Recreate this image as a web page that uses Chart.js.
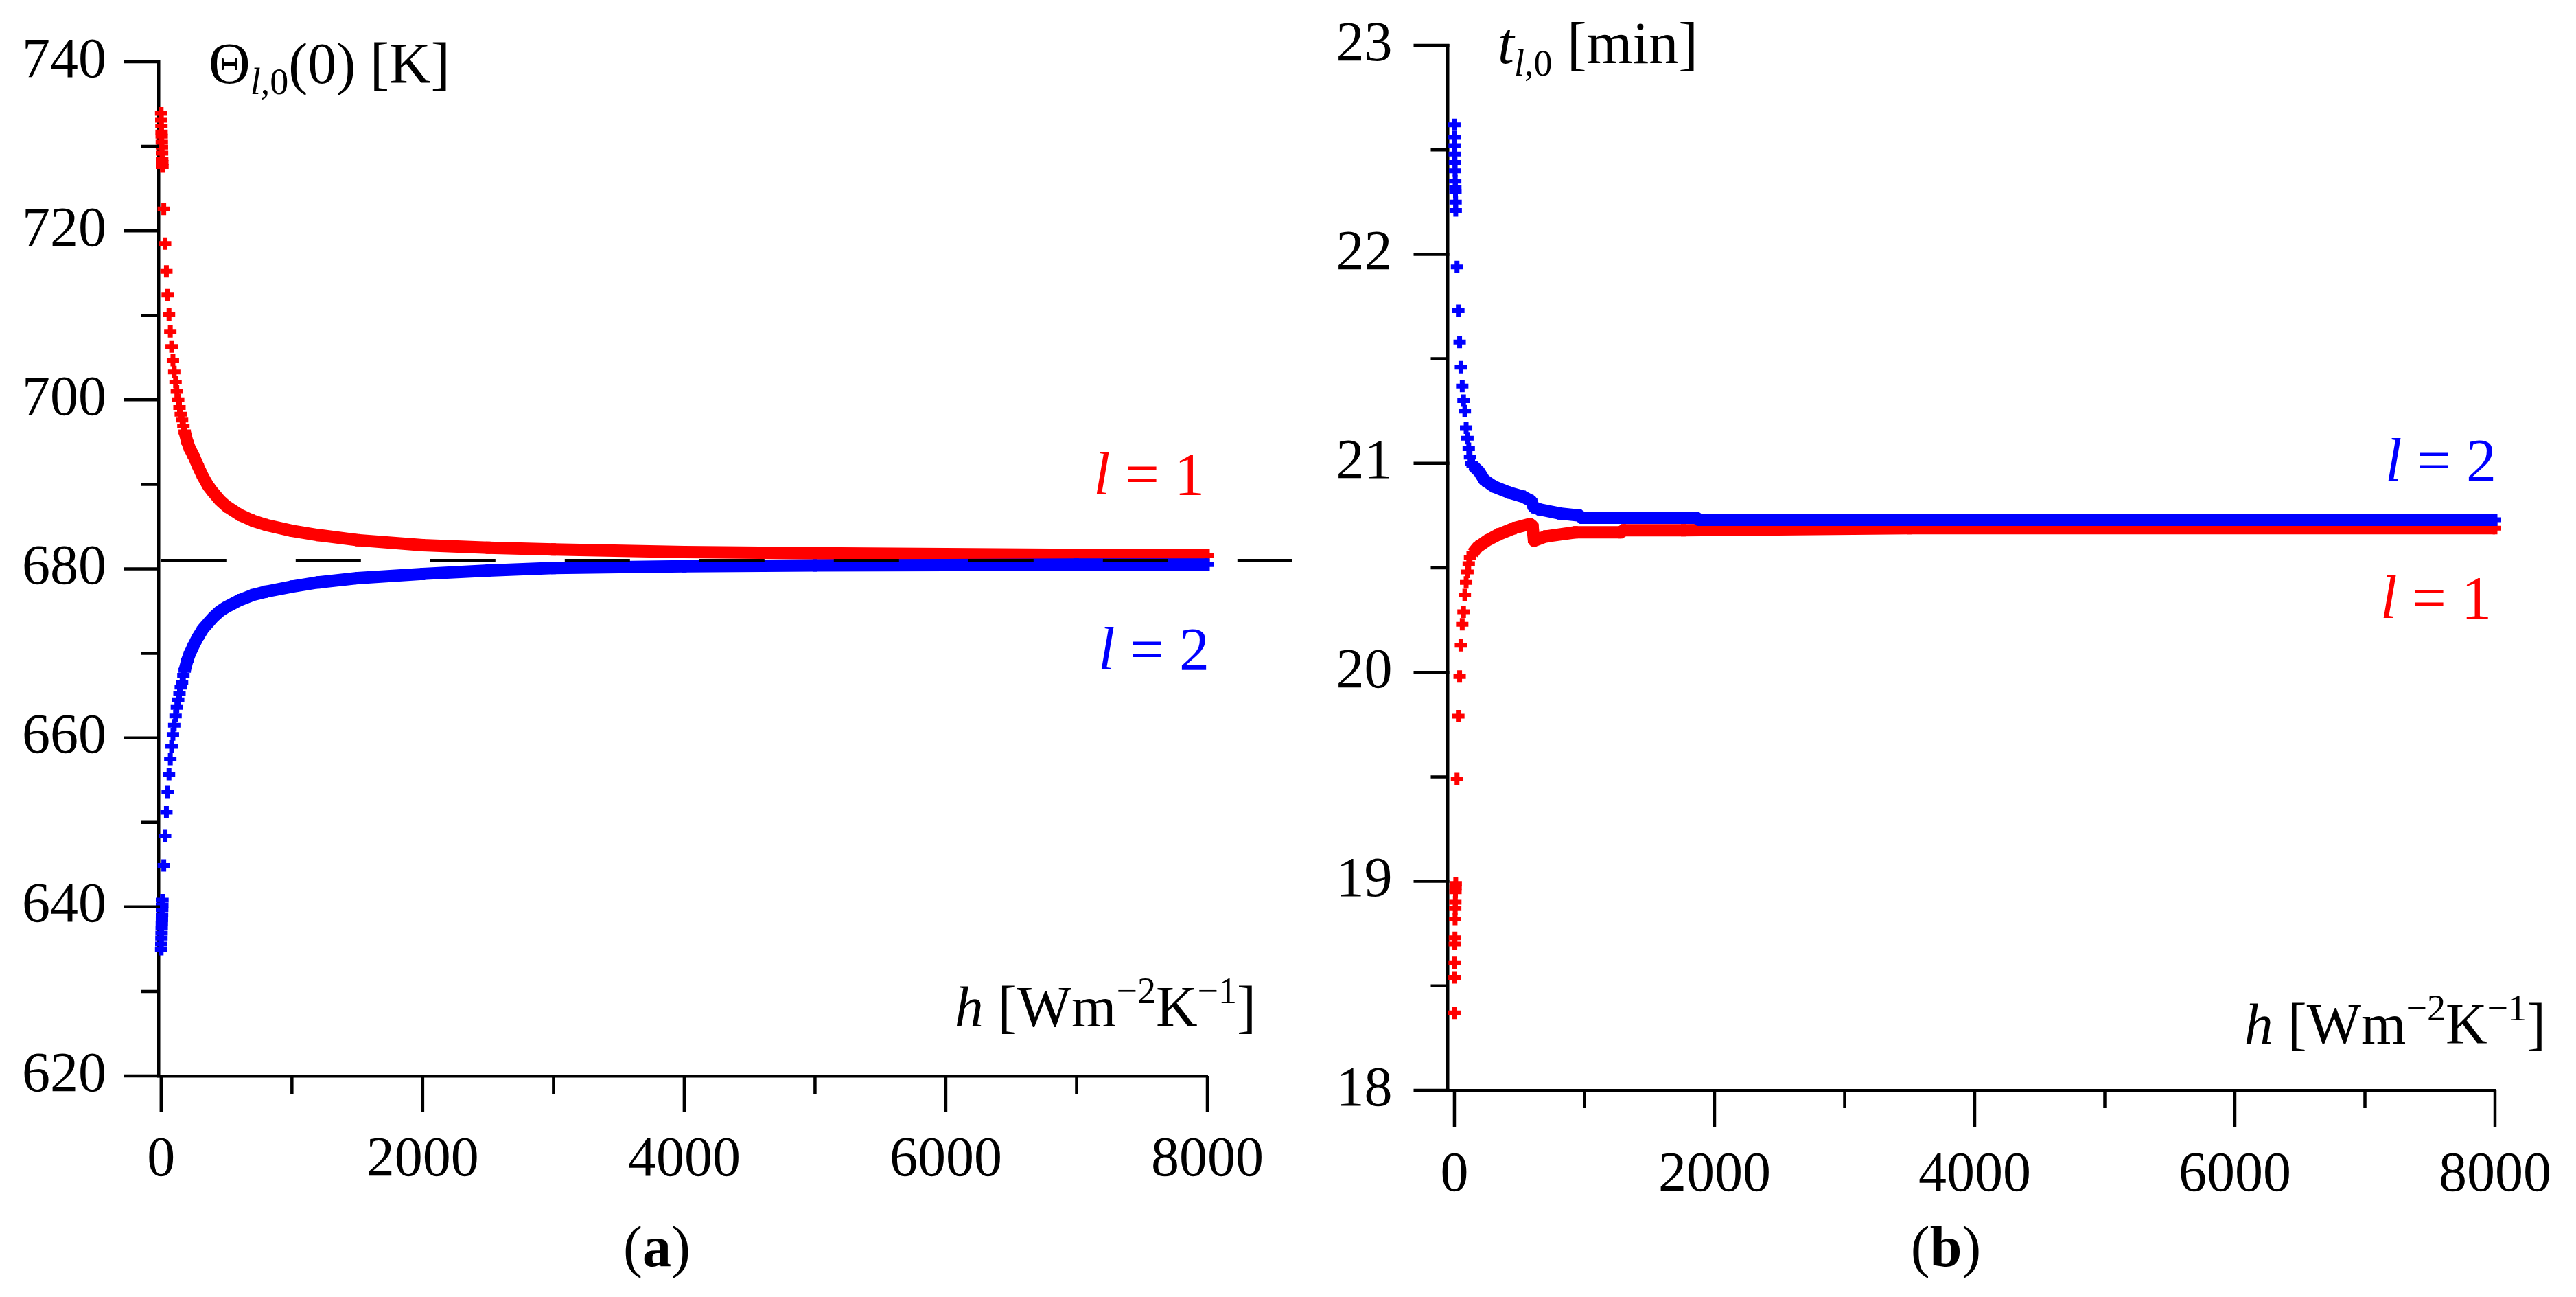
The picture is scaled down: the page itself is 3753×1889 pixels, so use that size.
<!DOCTYPE html>
<html>
<head>
<meta charset="utf-8">
<script src="https://cdn.jsdelivr.net/npm/chart.js@4.4.1/dist/chart.umd.min.js"></script>
<style>
  html, body { margin: 0; padding: 0; background: #fff; }
  #wrap { position: relative; width: 3753px; height: 1889px; }
  canvas { position: absolute; top: 0; }
  #left { left: 0; }
  #right { left: 1900px; }
</style>
</head>
<body>
<div id="wrap">
  <canvas id="left" width="1900" height="1889"></canvas>
  <canvas id="right" width="1853" height="1889"></canvas>
</div>
<script>
// h axis [W m^-2 K^-1]
const hMajor = [0, 2000, 4000, 6000, 8000];
const hMinor = [1000, 3000, 5000, 7000];
const hCluster = [0, 1, 2, 3, 4, 5, 6, 7, 8, 9, 10];

// panel (a): Theta_l,0(0) [K]
const thetaMajor = [620, 640, 660, 680, 700, 720, 740];
const thetaMinor = [630, 650, 670, 690, 710, 730];
const thetaLimit = 681;
const thetaLimitSpan = [0, 8650];
const thetaStepsH = [20, 30, 40, 50, 60, 70, 80, 90, 100, 110, 120, 130, 140, 150, 160, 170];
const thetaBandH = [180, 200, 220, 250, 280, 320, 360, 400, 450, 500, 600, 700, 800, 1000, 1200, 1500, 2000, 2500, 3000, 4000, 5000, 6000, 7000, 8000];
const thetaRedCluster = [733.9, 733.1, 732.4, 731.7, 731.2, 730.5, 729.9, 729.2, 728.5, 728.1, 727.6];
const thetaRedSteps = [722.6, 718.5, 715.2, 712.4, 710.1, 708.1, 706.3, 704.7, 703.3, 702.1, 701.0, 700.0, 699.1, 698.3, 697.6, 696.9];
const thetaRedBand = [696.2, 695.0, 694.2, 693.3, 692.2, 690.9, 689.8, 689.0, 688.1, 687.4, 686.4, 685.7, 685.2, 684.5, 684.0, 683.4, 682.8, 682.5, 682.3, 682.0, 681.85, 681.75, 681.65, 681.6];
const thetaBlueCluster = [635.0, 635.6, 636.3, 636.9, 637.5, 638.0, 638.5, 639.1, 639.7, 640.2, 640.8];
const thetaBlueSteps = [644.9, 648.4, 651.2, 653.6, 655.7, 657.5, 659.0, 660.4, 661.5, 662.6, 663.6, 664.5, 665.3, 666.0, 666.6, 667.4];
const thetaBlueBand = [668.0, 669.2, 670.0, 671.0, 671.9, 672.9, 673.6, 674.3, 675.0, 675.5, 676.3, 676.9, 677.3, 677.9, 678.4, 678.9, 679.4, 679.8, 680.1, 680.3, 680.4, 680.45, 680.5, 680.5];

// panel (b): t_l,0 [min]
const timeMajor = [18, 19, 20, 21, 22, 23];
const timeMinor = [18.5, 19.5, 20.5, 21.5, 22.5];
const timeRedCluster = [18.37, 18.54, 18.61, 18.70, 18.73, 18.82, 18.87, 18.90, 18.95, 18.97, 18.99];
const timeRedStepsH = [20, 30, 40, 50, 60, 70, 80, 90, 100, 110, 120];
const timeRedSteps = [19.49, 19.79, 19.98, 20.13, 20.23, 20.29, 20.37, 20.43, 20.48, 20.52, 20.55];
const timeRedBandH = [140, 180, 250, 340, 460, 580, 600, 612, 700, 930, 1280, 1300, 1760, 3500, 8000];
const timeRedBand = [20.57, 20.60, 20.63, 20.66, 20.69, 20.71, 20.70, 20.63, 20.65, 20.67, 20.67, 20.68, 20.68, 20.69, 20.69];
const timeBlueCluster = [22.62, 22.56, 22.52, 22.48, 22.44, 22.40, 22.35, 22.32, 22.30, 22.25, 22.21];
const timeBlueStepsH = [20, 30, 40, 50, 60, 70, 80, 90, 100, 110, 120, 130];
const timeBlueSteps = [21.94, 21.73, 21.58, 21.46, 21.37, 21.30, 21.25, 21.17, 21.12, 21.07, 21.03, 21.00];
const timeBlueBandH = [140, 190, 230, 300, 420, 530, 590, 610, 650, 810, 960, 980, 1860, 1880, 8000];
const timeBlueBand = [20.99, 20.96, 20.92, 20.89, 20.86, 20.84, 20.82, 20.79, 20.78, 20.76, 20.75, 20.74, 20.74, 20.73, 20.73];

const SERIF = '"Liberation Serif", "Times New Roman", serif';
const RED = '#ff0000';
const BLUE = '#0000ff';

function pts(hs, vs) {
    return hs.map((h, i) => ({ x: h, y: vs[i] }));
}

// single crosses, no line
function crosses(hs, vs, color, order) {
    return {
        data: pts(hs, vs),
        showLine: false,
        pointStyle: 'cross',
        pointRadius: 9,
        pointBorderWidth: 7,
        borderColor: color,
        backgroundColor: color,
        clip: false,
        order: order
    };
}

// dense part of a series: crosses joined by a thick line
function band(hs, vs, color, order) {
    const ds = crosses(hs, vs, color, order);
    ds.showLine = true;
    ds.borderWidth = 18;
    ds.borderJoinStyle = 'round';
    return ds;
}

function fontOf(p) {
    return (p.i ? 'italic ' : '') + (p.b ? 'bold ' : '') + p.s + 'px ' + SERIF;
}

function drawRich(ctx, item) {
    let width = 0;
    item.parts.forEach(p => { ctx.font = fontOf(p); width += ctx.measureText(p.t).width; });
    let x = item.x;
    if (item.align === 'right') x -= width;
    if (item.align === 'center') x -= width / 2;
    ctx.textBaseline = 'alphabetic';
    ctx.textAlign = 'left';
    item.parts.forEach(p => {
        ctx.font = fontOf(p);
        ctx.fillStyle = item.color || '#000';
        ctx.fillText(p.t, x, item.y + (p.dy || 0));
        x += ctx.measureText(p.t).width;
    });
}

// tick marks (major long, minor short) and the text labels
function decor(yMajor, yMinor, texts) {
    return {
        id: 'decor',
        afterDraw(chart) {
            const { ctx, chartArea: a, scales: { x, y } } = chart;
            ctx.save();
            ctx.strokeStyle = '#000';
            ctx.lineWidth = 4.5;
            ctx.beginPath();
            yMajor.forEach(v => { const p = y.getPixelForValue(v); ctx.moveTo(a.left - 50, p); ctx.lineTo(a.left + 2, p); });
            yMinor.forEach(v => { const p = y.getPixelForValue(v); ctx.moveTo(a.left - 25, p); ctx.lineTo(a.left, p); });
            hMajor.forEach(v => { const p = x.getPixelForValue(v); ctx.moveTo(p, a.bottom); ctx.lineTo(p, a.bottom + 53); });
            hMinor.forEach(v => { const p = x.getPixelForValue(v); ctx.moveTo(p, a.bottom); ctx.lineTo(p, a.bottom + 26); });
            ctx.stroke();
            texts.forEach(t => drawRich(ctx, t));
            ctx.restore();
        }
    };
}

function makePanel(canvasId, cfg) {
    const ctx = document.getElementById(canvasId).getContext('2d');
    const tickFont = { family: SERIF, size: 82 };
    return new Chart(ctx, {
        type: 'scatter',
        data: { datasets: cfg.datasets },
        options: {
            responsive: false,
            animation: false,
            devicePixelRatio: 1,
            events: [],
            layout: { padding: cfg.padding, autoPadding: false },
            plugins: { legend: { display: false }, tooltip: { enabled: false } },
            scales: {
                x: {
                    type: 'linear',
                    min: cfg.xMin,
                    max: 8000,
                    // fixed size, no label overhang padding
                    afterFit: s => { s.height = cfg.xHeight; s.paddingLeft = 0; s.paddingRight = 0; },
                    afterBuildTicks: s => { s.ticks = hMajor.map(v => ({ value: v })); },
                    ticks: { font: tickFont, color: '#000', padding: cfg.xPad, maxRotation: 0, autoSkip: false, callback: v => String(v) },
                    grid: { display: false, drawTicks: false },
                    border: { display: true, color: '#000', width: 4.5 }
                },
                y: {
                    type: 'linear',
                    min: cfg.yMajor[0],
                    max: cfg.yMajor[cfg.yMajor.length - 1],
                    afterFit: s => { s.width = cfg.yWidth; s.paddingTop = 0; s.paddingBottom = 0; },
                    afterBuildTicks: s => { s.ticks = cfg.yMajor.map(v => ({ value: v })); },
                    ticks: { font: tickFont, color: '#000', padding: cfg.yPad, autoSkip: false, callback: v => String(v) },
                    grid: { display: false, drawTicks: false },
                    border: { display: true, color: '#000', width: 4.5 }
                }
            }
        },
        plugins: [decor(cfg.yMajor, cfg.yMinor, cfg.texts)]
    });
}

// (a) boundary temperature
makePanel('left', {
    padding: { left: 0, top: 90, right: 141, bottom: 0 },
    xMin: -20, xHeight: 322, xPad: 74,
    yWidth: 231, yPad: 76,
    yMajor: thetaMajor, yMinor: thetaMinor,
    datasets: [
        {
            data: pts(thetaLimitSpan, [thetaLimit, thetaLimit]),
            showLine: true, borderColor: '#000', borderWidth: 4.5, borderDash: [95, 101],
            pointRadius: 0, clip: false, order: 0
        },
        crosses(hCluster, thetaBlueCluster, BLUE, 1),
        crosses(thetaStepsH, thetaBlueSteps, BLUE, 1),
        band(thetaBandH, thetaBlueBand, BLUE, 1),
        crosses(hCluster, thetaRedCluster, RED, 2),
        crosses(thetaStepsH, thetaRedSteps, RED, 2),
        band(thetaBandH, thetaRedBand, RED, 2)
    ],
    texts: [
        { x: 304, y: 121, parts: [{ t: 'Θ', s: 84 }, { t: 'l', s: 54, i: true, dy: 16 }, { t: ',0', s: 54, dy: 16 }, { t: '(0) [K]', s: 84 }] },
        { x: 1830, y: 1495, align: 'right', parts: [{ t: 'h', s: 84, i: true }, { t: ' [Wm', s: 84 }, { t: '−2', s: 54, dy: -34 }, { t: 'K', s: 84 }, { t: '−1', s: 54, dy: -34 }, { t: ']', s: 84 }] },
        { x: 957, y: 1844, align: 'center', parts: [{ t: '(', s: 84 }, { t: 'a', s: 84, b: true }, { t: ')', s: 84 }] },
        { x: 1755, y: 720, align: 'right', color: RED, parts: [{ t: 'l', s: 88, i: true }, { t: ' = 1', s: 88 }] },
        { x: 1762, y: 975, align: 'right', color: BLUE, parts: [{ t: 'l', s: 88, i: true }, { t: ' = 2', s: 88 }] }
    ]
});

// (b) time
makePanel('right', {
    padding: { left: 0, top: 66, right: 118, bottom: 0 },
    xMin: -50, xHeight: 301, xPad: 75,
    yWidth: 209.5, yPad: 81,
    yMajor: timeMajor, yMinor: timeMinor,
    datasets: [
        crosses(hCluster, timeBlueCluster, BLUE, 1),
        crosses(timeBlueStepsH, timeBlueSteps, BLUE, 1),
        band(timeBlueBandH, timeBlueBand, BLUE, 1),
        crosses(hCluster, timeRedCluster, RED, 2),
        crosses(timeRedStepsH, timeRedSteps, RED, 2),
        band(timeRedBandH, timeRedBand, RED, 2)
    ],
    texts: [
        { x: 282, y: 92, parts: [{ t: 't', s: 86, i: true }, { t: 'l', s: 54, i: true, dy: 18 }, { t: ',0', s: 54, dy: 18 }, { t: ' [min]', s: 86 }] },
        { x: 1809, y: 1520, align: 'right', parts: [{ t: 'h', s: 84, i: true }, { t: ' [Wm', s: 84 }, { t: '−2', s: 54, dy: -34 }, { t: 'K', s: 84 }, { t: '−1', s: 54, dy: -34 }, { t: ']', s: 84 }] },
        { x: 935, y: 1844, align: 'center', parts: [{ t: '(', s: 84 }, { t: 'b', s: 84, b: true }, { t: ')', s: 84 }] },
        { x: 1737, y: 700, align: 'right', color: BLUE, parts: [{ t: 'l', s: 88, i: true }, { t: ' = 2', s: 88 }] },
        { x: 1730, y: 900, align: 'right', color: RED, parts: [{ t: 'l', s: 88, i: true }, { t: ' = 1', s: 88 }] }
    ]
});
</script>
</body>
</html>
